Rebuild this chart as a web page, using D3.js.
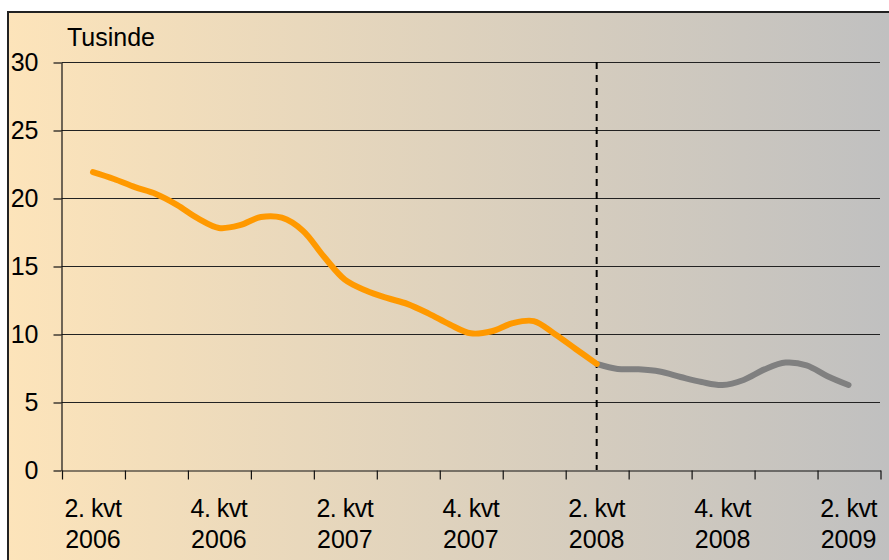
<!DOCTYPE html>
<html>
<head>
<meta charset="utf-8">
<script src="https://cdn.jsdelivr.net/npm/d3@7"></script>
<style>
  html, body { margin: 0; padding: 0; background: #fff; }
  svg { display: block; font-family: "Liberation Sans", Arial, sans-serif; }
</style>
</head>
<body>
<svg id="chart"></svg>
<script>
// quarters on the x axis (every other one is labelled)
const quarters = ["2. kvt 2006", "3. kvt 2006", "4. kvt 2006", "1. kvt 2007", "2. kvt 2007",
  "3. kvt 2007", "4. kvt 2007", "1. kvt 2008", "2. kvt 2008", "3. kvt 2008",
  "4. kvt 2008", "1. kvt 2009", "2. kvt 2009"];
const yTicks = [0, 5, 10, 15, 20, 25, 30];
// monthly values, maj 2006 - maj 2008 (thousands)
const actual = [21.9, 21.4, 20.8, 20.3, 19.5, 18.5, 17.8, 18.0, 18.6, 18.55, 17.6, 15.7, 14.0,
  13.2, 12.65, 12.2, 11.5, 10.7, 10.05, 10.2, 10.8, 10.95, 10.0, 8.9, 7.8];
// monthly values, maj 2008 - maj 2009
const later = [7.8, 7.43, 7.4, 7.24, 6.84, 6.47, 6.25, 6.62, 7.4, 7.9, 7.7, 6.9, 6.25];

const width = 889;
const height = 560;
const marginTop = 62;
const marginLeft = 61.5;
const plotRight = 880;
const plotBottom = 470;
const fontSize = 25;

const svg = d3.select("#chart")
    .attr("width", width)
    .attr("height", height)
    .attr("viewBox", [0, 0, width, height]);

const grad = svg.append("defs").append("linearGradient")
    .attr("id", "bg")
    .attr("gradientUnits", "userSpaceOnUse")
    .attr("x1", 7).attr("x2", width).attr("y1", 0).attr("y2", 0);
grad.append("stop").attr("offset", 0).attr("stop-color", "#fde4ba");
grad.append("stop").attr("offset", 1).attr("stop-color", "#c0c0c0");

svg.append("rect")
    .attr("x", 8).attr("y", 12)
    .attr("width", 1000).attr("height", 1000)
    .attr("fill", "url(#bg)")
    .attr("stroke", "#222")
    .attr("stroke-width", 2);

// x in quarter units: 0 = start of 2. kvt 2006
const x = d3.scaleLinear()
    .domain([0, quarters.length])
    .range([marginLeft, plotRight]);
const monthX = i => x(0.5 + i / 3);

const y = d3.scaleLinear()
    .domain([0, 30])
    .range([plotBottom, marginTop]);

// gridlines
svg.append("g")
  .selectAll("line")
  .data(yTicks.filter(d => d > 0))
  .join("line")
    .attr("x1", marginLeft).attr("x2", plotRight)
    .attr("y1", d => y(d) + 0.5).attr("y2", d => y(d) + 0.5)
    .attr("stroke", "#222")
    .attr("stroke-width", 1.2);

// y axis
svg.append("g")
    .attr("transform", `translate(${marginLeft},0.5)`)
    .call(d3.axisLeft(y).tickValues(yTicks).tickSize(8).tickSizeOuter(0).tickPadding(15))
    .call(g => g.select(".domain").attr("stroke", "#111").attr("stroke-width", 1.2))
    .call(g => g.selectAll(".tick line").attr("stroke", "#111").attr("stroke-width", 1.2))
    .call(g => g.selectAll(".tick text")
        .attr("font-size", fontSize)
        .attr("font-family", "Liberation Sans, Arial, sans-serif")
        .attr("fill", "#000"));

// x axis
svg.append("g")
    .attr("transform", `translate(0.5,${plotBottom + 0.5})`)
    .call(d3.axisBottom(x).tickValues(d3.range(0, quarters.length + 1)).tickSize(9)
        .tickSizeOuter(0).tickFormat(""))
    .call(g => g.select(".domain").attr("stroke", "#111").attr("stroke-width", 1.2))
    .call(g => g.selectAll(".tick line").attr("stroke", "#111").attr("stroke-width", 1.2));

const labels = svg.append("g")
    .attr("font-size", fontSize)
    .attr("text-anchor", "middle")
    .attr("fill", "#000")
  .selectAll("text")
  .data(quarters.map((q, i) => ({q, i})).filter(d => d.i % 2 === 0))
  .join("text")
    .attr("x", d => x(d.i + 0.5));
labels.append("tspan")
    .attr("y", 517)
    .attr("x", d => x(d.i + 0.5))
    .attr("letter-spacing", -0.5)
    .text(d => d.q.slice(0, 6));
labels.append("tspan")
    .attr("y", 548)
    .attr("x", d => x(d.i + 0.5))
    .text(d => d.q.slice(7));

svg.append("text")
    .attr("x", 67)
    .attr("y", 46)
    .attr("font-size", fontSize)
    .attr("fill", "#000")
    .text("Tusinde");

// vertical dashed line at maj 2008
svg.append("line")
    .attr("x1", monthX(actual.length - 1)).attr("x2", monthX(actual.length - 1))
    .attr("y1", y(30)).attr("y2", y(0))
    .attr("stroke", "#000")
    .attr("stroke-width", 2)
    .attr("stroke-dasharray", "7,6");

const line = d3.line()
    .x(d => d[0])
    .y(d => y(d[1]))
    .curve(d3.curveCatmullRom.alpha(0.5));

svg.append("path")
    .datum(later.map((v, i) => [monthX(actual.length - 1 + i), v]))
    .attr("fill", "none")
    .attr("stroke", "#808080")
    .attr("stroke-width", 6)
    .attr("stroke-linecap", "round")
    .attr("stroke-linejoin", "round")
    .attr("d", line);

svg.append("path")
    .datum(actual.map((v, i) => [monthX(i), v]))
    .attr("fill", "none")
    .attr("stroke", "#ff9900")
    .attr("stroke-width", 6)
    .attr("stroke-linecap", "round")
    .attr("stroke-linejoin", "round")
    .attr("d", line);
</script>
</body>
</html>
